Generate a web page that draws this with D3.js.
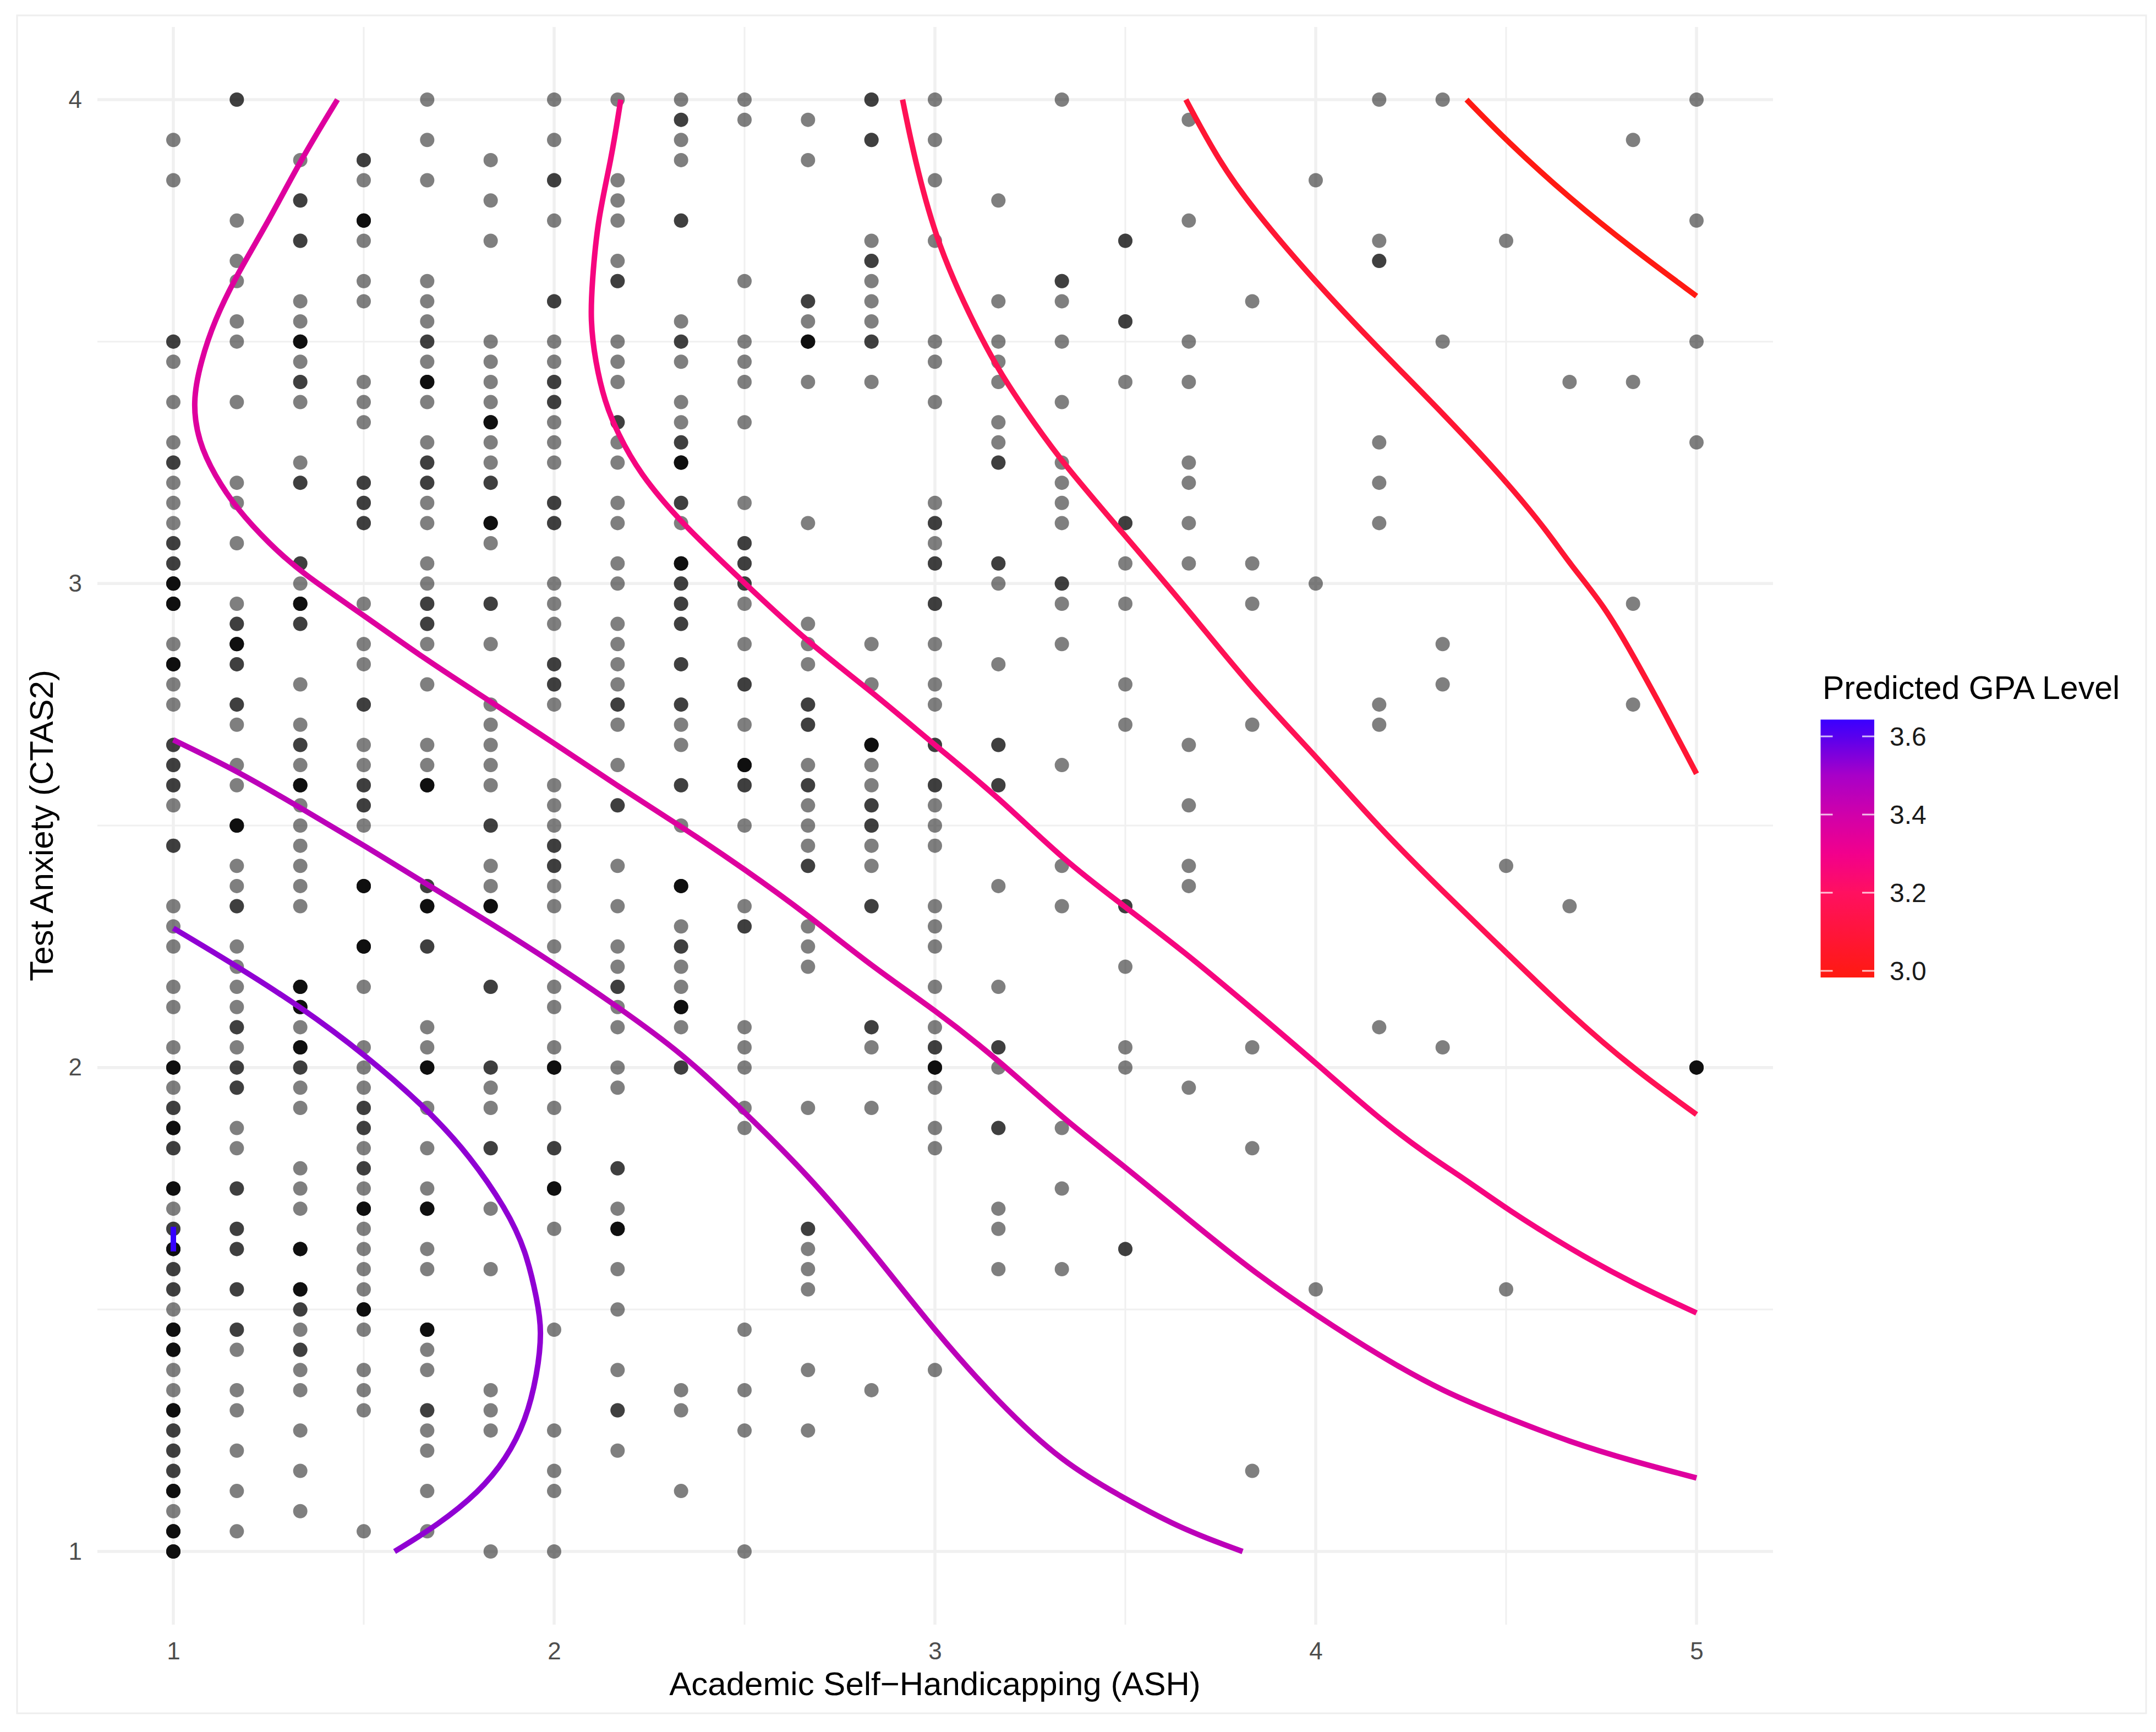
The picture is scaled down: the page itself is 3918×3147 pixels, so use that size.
<!DOCTYPE html>
<html>
<head>
<meta charset="utf-8">
<script src="https://cdn.jsdelivr.net/npm/d3@7"></script>
<style>
html,body{margin:0;padding:0;background:#fff;}
svg{display:block;font-family:"Liberation Sans",Arial,sans-serif;}
</style>
</head>
<body>
<div id="chart"></div>
<script>
// ---------- DATA ----------
const ashValues = [1,7/6,4/3,1.5,5/3,11/6,2,13/6,7/3,2.5,8/3,17/6,3,19/6,10/3,3.5,11/3,23/6,4,25/6,13/3,4.5,14/3,29/6,5];
// Test-anxiety is on a 1/24 grid: each number is "steps below 4".
const anxietyStep = 1/24;
// one list per ASH value; single observations
const seenOnce = [
 [2,4,13,15,17,19,20,21,27,29,30,35,40,41,42,44,45,47,49,55,60,63,64,70],
 [6,8,9,11,12,15,19,20,22,25,31,33,34,38,39,42,43,44,45,47,51,52,62,64,65,67,69,71],
 [3,10,11,13,15,18,24,29,31,33,35,36,37,38,39,40,46,49,50,53,54,55,61,63,64,66,68,70],
 [4,7,9,10,14,15,16,25,27,28,32,33,36,44,47,48,49,52,54,56,57,58,59,61,63,64,65,71],
 [0,2,4,9,10,11,13,15,17,20,21,23,24,27,29,32,33,46,47,50,52,54,57,58,62,63,66,67,69,71],
 [3,5,7,12,13,14,15,17,18,22,27,30,31,32,33,34,38,39,49,50,55,58,64,65,66,72],
 [0,2,6,12,13,16,17,18,24,25,26,30,34,35,36,39,40,42,44,45,47,50,56,61,66,68,69,72],
 [0,4,5,6,8,12,13,14,17,18,20,21,23,24,26,27,28,29,31,33,38,40,42,43,45,46,48,49,55,58,60,63,67],
 [0,2,3,11,13,15,16,21,31,32,36,41,43,44,46,64,65,69],
 [0,1,9,12,13,14,16,20,25,27,31,36,40,46,47,48,50,51,61,64,66,72],
 [1,3,11,14,21,26,27,28,33,35,36,37,41,42,43,50,57,58,59,63,66],
 [7,9,10,11,14,27,29,33,34,37,38,47,50,64],
 [0,2,4,7,12,13,15,20,22,27,29,30,35,36,37,40,41,42,44,46,49,51,52,63],
 [5,10,12,13,14,16,17,24,28,39,44,48,55,56,58],
 [0,10,12,15,18,19,20,21,25,27,33,38,40,51,54,58],
 [14,23,25,29,31,43,47,48],
 [1,6,12,14,18,19,21,23,32,35,38,39,49],
 [10,23,25,31,47,52,68],
 [4,24,59],
 [0,7,17,19,21,30,31,46],
 [0,12,27,29,47],
 [7,38,59],
 [14,40],
 [2,14,25,30],
 [0,6,12,17]
];
// two overlapping observations
const seenTwice = [
 [12,18,22,23,32,33,34,37,50,52,56,58,59,66,67,68],
 [0,26,28,30,40,46,48,49,54,56,57,59,61],
 [5,7,14,19,23,26,32,48,60,62],
 [3,19,20,21,30,34,35,50,51,53],
 [12,18,19,25,26,39,42,65],
 [19,25,36,44,48,52],
 [4,10,14,15,20,21,28,29,37,38,52],
 [9,16,30,35,44,53,65],
 [1,6,12,17,20,24,25,26,28,30,34,42,48],
 [22,23,24,29,34,41],
 [10,30,31,34,38,56],
 [0,2,8,12,35,36,40,46],
 [21,23,25,32,34,47],
 [18,23,32,34,47,51],
 [9,24],
 [7,11,21,40,57],
 [],[],[],[8],[],[],[],[],[]
];
// many overlapping observations
const seenMany = [
 [24,25,28,48,51,54,57,61,62,65,69,71,72],
 [27,36],
 [12,25,34,44,45,47,57,59],
 [6,39,42,55,60],
 [14,34,40,48,55,61],
 [16,21,40],
 [48,54],
 [56],
 [18,23,39,45],
 [33],
 [12],
 [32],
 [48],
 [],[],[],[],[],[],[],[],[],[],[],
 [48]
];
const manyCount = 4;

// contour levels of predicted GPA
const levels = [3.65,3.53,3.45,3.36,3.27,3.17,3.08,2.99];
const curveAsh = [
 [1,1],
 [1,1.168,1.333,1.503,1.671,1.779,1.874,1.926,1.956,1.968,1.956,1.926,1.874,1.803,1.695,1.581],
 [1,1.168,1.335,1.503,1.671,1.832,2,2.166,2.334,2.491,2.667,2.834,3,3.168,3.334,3.501,3.652,3.808],
 [1.431,1.335,1.251,1.168,1.108,1.072,1.05,1.066,1.108,1.168,1.251,1.335,1.503,1.666,1.832,2,2.166,2.334,2.5,2.667,2.834,3,3.168,3.334,3.501,3.652,3.834,4.001,4.168,4.335,4.501,4.668,4.835,5],
 [2.175,2.15,2.114,2.1,2.095,2.108,2.133,2.166,2.223,2.334,2.5,2.667,2.834,3,3.168,3.334,3.501,3.652,3.834,4.001,4.168,4.296,4.389,4.501,4.668,4.835,5],
 [2.915,2.947,3,3.072,3.168,3.264,3.334,3.501,3.66,3.834,4.001,4.168,4.335,4.501,4.668,4.835,5],
 [3.659,3.744,3.836,4.001,4.168,4.334,4.501,4.61,4.668,4.757,4.835,4.923,5],
 [4.396,4.501,4.668,4.835,5]
];
const curveAnxiety = [
 [1.671,1.62],
 [2.288,2.209,2.126,2.027,1.911,1.817,1.708,1.622,1.518,1.456,1.366,1.271,1.191,1.123,1.055,1],
 [2.677,2.613,2.536,2.458,2.376,2.299,2.215,2.126,2.031,1.915,1.778,1.623,1.455,1.307,1.184,1.108,1.045,1],
 [4,3.876,3.75,3.64,3.544,3.459,3.375,3.293,3.224,3.153,3.083,3.023,2.933,2.841,2.757,2.67,2.582,2.498,2.41,2.315,2.209,2.119,2.015,1.896,1.794,1.695,1.579,1.488,1.404,1.33,1.277,1.226,1.186,1.152],
 [4,3.876,3.751,3.625,3.544,3.459,3.375,3.312,3.229,3.125,3.001,2.878,2.777,2.666,2.558,2.431,2.331,2.241,2.121,2.009,1.893,1.818,1.771,1.708,1.625,1.553,1.493],
 [4,3.876,3.719,3.584,3.436,3.328,3.251,3.097,2.951,2.781,2.643,2.494,2.363,2.237,2.11,1.997,1.903],
 [4,3.875,3.773,3.621,3.483,3.352,3.211,3.106,3.04,2.955,2.85,2.723,2.607],
 [4,3.915,3.795,3.69,3.594]
];
// colour ramp
const rampValues = [2.983,3.2,3.3,3.4,3.5,3.6,3.643];
const rampColors = ["#ff1a10","#ff1060","#f2008c","#d000aa","#a800c8","#5800ee","#3a00ff"];
const legendTicks = [3.0,3.2,3.4,3.6];
const xTicks = [1,2,3,4,5];
const yTicks = [1,2,3,4];
const xMinor = [1.5,2.5,3.5,4.5];
const yMinor = [1.5,2.5,3.5];

// ---------- LAYOUT ----------
const W = 3918, H = 3147;
const panel = {left:177, right:3222, top:49, bottom:2952};
const x = d3.scaleLinear().domain([1,5]).range([315,3083]);
const y = d3.scaleLinear().domain([1,4]).range([2819,181]);
const colour = d3.scaleLinear().domain(rampValues).range(rampColors).interpolate(d3.interpolateRgb);

const svg = d3.select("#chart").append("svg").attr("width",W).attr("height",H).attr("viewBox",`0 0 ${W} ${H}`);
svg.append("rect").attr("width",W).attr("height",H).attr("fill","#fff");
svg.append("rect").attr("x",31).attr("y",28).attr("width",3869).attr("height",3085)
  .attr("fill","none").attr("stroke","#eeeeee").attr("stroke-width",3);

// grid
const grid = svg.append("g").attr("stroke","#f0f0f0");
grid.selectAll(".vmin").data(xMinor).join("line").attr("x1",d=>x(d)).attr("x2",d=>x(d))
  .attr("y1",panel.top).attr("y2",panel.bottom).attr("stroke-width",3);
grid.selectAll(".hmin").data(yMinor).join("line").attr("class","hmin").attr("y1",d=>y(d)).attr("y2",d=>y(d))
  .attr("x1",panel.left).attr("x2",panel.right).attr("stroke-width",3);
grid.selectAll(".vmaj").data(xTicks).join("line").attr("class","vmaj").attr("x1",d=>x(d)).attr("x2",d=>x(d))
  .attr("y1",panel.top).attr("y2",panel.bottom).attr("stroke-width",5.5);
grid.selectAll(".hmaj").data(yTicks).join("line").attr("class","hmaj").attr("y1",d=>y(d)).attr("y2",d=>y(d))
  .attr("x1",panel.left).attr("x2",panel.right).attr("stroke-width",5.5);

// axes
const gx = svg.append("g").attr("transform",`translate(0,${panel.bottom})`)
  .call(d3.axisBottom(x).tickValues(xTicks).tickSize(0).tickPadding(32).tickFormat(d3.format("d")));
const gy = svg.append("g").attr("transform",`translate(${panel.left},0)`)
  .call(d3.axisLeft(y).tickValues(yTicks).tickSize(0).tickPadding(28).tickFormat(d3.format("d")));
[gx,gy].forEach(g=>{
  g.select(".domain").remove();
  g.selectAll("text").attr("font-size",44).attr("fill","#4d4d4d").attr("font-family","Liberation Sans");
});

// points
const points = [];
ashValues.forEach((a,i)=>{
  const push = (r,n)=>{ for(let k=0;k<n;k++) points.push({ash:a, anxiety:4-r*anxietyStep}); };
  seenOnce[i].forEach(r=>push(r,1));
  seenTwice[i].forEach(r=>push(r,2));
  seenMany[i].forEach(r=>push(r,manyCount));
});
svg.append("g").selectAll("circle").data(points).join("circle")
  .attr("cx",d=>x(d.ash)).attr("cy",d=>y(d.anxiety)).attr("r",13)
  .attr("fill","#000").attr("fill-opacity",0.5);

// contour curves
const line = d3.line().x(d=>x(d[0])).y(d=>y(d[1])).curve(d3.curveBasis);
svg.append("g").attr("fill","none").attr("stroke-width",10)
  .selectAll("path").data(levels).join("path")
  .attr("d",(d,i)=>line(curveAsh[i].map((a,j)=>[a,curveAnxiety[i][j]])))
  .attr("stroke",d=>colour(d));

// axis titles
svg.append("text").attr("x",x(3)).attr("y",3080).attr("text-anchor","middle").attr("font-size",60).attr("fill","#000")
  .text("Academic Self\u2212Handicapping (ASH)");
svg.append("text").attr("transform","translate(96,1500) rotate(-90)").attr("text-anchor","middle").attr("font-size",60).attr("fill","#000")
  .text("Test Anxiety (CTAS2)");

// legend
const legendY = d3.scaleLinear().domain([3.0,3.6]).range([1764,1338]);
const defs = svg.append("defs");
const gradient = defs.append("linearGradient").attr("id","gpaRamp").attr("x1",0).attr("x2",0).attr("y1",1).attr("y2",0);
const legMin = rampValues[0], legMax = rampValues[rampValues.length-1];
gradient.selectAll("stop").data(rampValues).join("stop")
  .attr("offset",d=>(d-legMin)/(legMax-legMin)).attr("stop-color",d=>colour(d));
const barL = 3308.5, barR = 3406;
svg.append("rect").attr("x",barL).attr("width",barR-barL).attr("y",legendY(legMax)).attr("height",legendY(legMin)-legendY(legMax)).attr("fill","url(#gpaRamp)");
const lt = svg.append("g").attr("stroke","#fff").attr("stroke-opacity",0.75).attr("stroke-width",3);
lt.selectAll(".l").data(legendTicks).join("line").attr("class","l").attr("x1",barL).attr("x2",barL+22).attr("y1",d=>legendY(d)).attr("y2",d=>legendY(d));
lt.selectAll(".r").data(legendTicks).join("line").attr("class","r").attr("x1",barR-22).attr("x2",barR).attr("y1",d=>legendY(d)).attr("y2",d=>legendY(d));
svg.append("g").selectAll("text").data(legendTicks).join("text")
  .attr("x",3434).attr("y",d=>legendY(d)).attr("dy","0.36em").attr("font-size",48).attr("fill","#1a1a1a")
  .text(d=>d3.format(".1f")(d));
svg.append("text").attr("x",3312).attr("y",1270).attr("font-size",59).attr("fill","#000").text("Predicted GPA Level");
</script>
</body>
</html>
